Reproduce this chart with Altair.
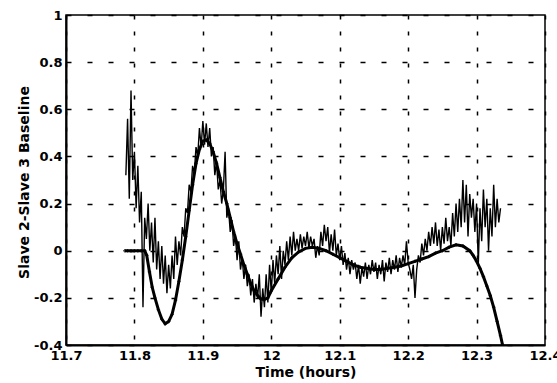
import altair as alt
import pandas as pd

# ---- model (smooth, marker) curve ----
model_t = [11.786, 11.790, 11.795, 11.800, 11.805, 11.810, 11.815, 11.818, 11.822, 11.826,
           11.830, 11.835, 11.840, 11.845, 11.850, 11.855, 11.860, 11.865, 11.870, 11.875,
           11.880, 11.885, 11.890, 11.895, 11.900, 11.905, 11.910, 11.915, 11.920, 11.925,
           11.930, 11.935, 11.940, 11.945, 11.950, 11.955, 11.960, 11.965, 11.970, 11.975,
           11.980, 11.985, 11.990, 11.995, 12.000, 12.010, 12.020, 12.030, 12.040, 12.050,
           12.060, 12.070, 12.080, 12.090, 12.100, 12.110, 12.120, 12.130, 12.140, 12.150,
           12.160, 12.170, 12.180, 12.190, 12.200, 12.210, 12.220, 12.230, 12.240, 12.250,
           12.260, 12.270, 12.280, 12.290, 12.295, 12.300, 12.305, 12.310, 12.315, 12.320,
           12.325, 12.330, 12.335, 12.338]
model_v = [0.0, 0.0, 0.0, 0.0, 0.0, 0.0, 0.0, -0.02, -0.09, -0.155,
           -0.20, -0.25, -0.29, -0.31, -0.30, -0.27, -0.21, -0.13, -0.04, 0.06,
           0.17, 0.28, 0.37, 0.43, 0.465, 0.47, 0.455, 0.42, 0.37, 0.31,
           0.25, 0.20, 0.14, 0.08, 0.03, -0.015, -0.06, -0.10, -0.14, -0.17,
           -0.19, -0.205, -0.207, -0.20, -0.17, -0.12, -0.07, -0.03, -0.005, 0.01,
           0.015, 0.01, 0.0, -0.015, -0.03, -0.045, -0.06, -0.07, -0.075, -0.08,
           -0.08, -0.075, -0.07, -0.065, -0.055, -0.045, -0.035, -0.025, -0.01, 0.0,
           0.015, 0.025, 0.02, 0.0, -0.02, -0.045, -0.075, -0.11, -0.15, -0.19,
           -0.24, -0.30, -0.36, -0.40]

# ---- measured (noisy) baseline ----
meas_t = [
    11.7875, 11.7900, 11.7925, 11.7950, 11.7975, 11.8000, 11.8025, 11.8050, 11.8075, 11.8100, 11.8125,
    11.8150, 11.8175, 11.8200, 11.8225, 11.8250, 11.8275, 11.8300, 11.8325, 11.8350, 11.8375,
    11.8400, 11.8425, 11.8450, 11.8475, 11.8500,
    11.8525, 11.8550, 11.8575, 11.8600, 11.8625, 11.8650, 11.8675, 11.8700, 11.8725, 11.8750,
    11.8775, 11.8800, 11.8825, 11.8850, 11.8875, 11.8900, 11.8925, 11.8950, 11.8975, 11.9000,
    11.9025, 11.9050, 11.9075, 11.9100, 11.9125, 11.9150, 11.9175, 11.9200, 11.9225, 11.9250,
    11.9275, 11.9300, 11.9325, 11.9350, 11.9375, 11.9400, 11.9425, 11.9450, 11.9475, 11.9500,
    11.9525, 11.9550, 11.9575, 11.9600, 11.9625, 11.9650, 11.9675, 11.9700, 11.9725, 11.9750,
    11.9775, 11.9800, 11.9825, 11.9850, 11.9875, 11.9900, 11.9925, 11.9950, 11.9975, 12.0000,
    12.0025, 12.0050, 12.0075, 12.0100, 12.0125, 12.0150, 12.0175, 12.0200, 12.0225, 12.0250,
    12.0275, 12.0300, 12.0325, 12.0350, 12.0375, 12.0400, 12.0425, 12.0450, 12.0475, 12.0500,
    12.0525, 12.0550, 12.0575, 12.0600, 12.0625, 12.0650, 12.0675, 12.0700, 12.0725, 12.0750,
    12.0775, 12.0800, 12.0825, 12.0850, 12.0875, 12.0900, 12.0925, 12.0950, 12.0975, 12.1000,
    12.1025, 12.1050, 12.1075, 12.1100, 12.1125, 12.1150, 12.1175, 12.1200, 12.1225, 12.1250,
    12.1275, 12.1300, 12.1325, 12.1350, 12.1375, 12.1400, 12.1425, 12.1450, 12.1475, 12.1500,
    12.1525, 12.1550, 12.1575, 12.1600, 12.1625, 12.1650, 12.1675, 12.1700, 12.1725, 12.1750,
    12.1775, 12.1800, 12.1825, 12.1850, 12.1875, 12.1900, 12.1925, 12.1950, 12.1975, 12.2000,
    12.2025, 12.2050, 12.2075, 12.2100, 12.2125, 12.2150, 12.2175, 12.2200, 12.2225, 12.2250,
    12.2275, 12.2300, 12.2325, 12.2350, 12.2375, 12.2400, 12.2425, 12.2450, 12.2475, 12.2500,
    12.2525, 12.2550, 12.2575, 12.2600, 12.2625, 12.2650, 12.2675, 12.2700, 12.2725, 12.2750,
    12.2775, 12.2800, 12.2825, 12.2850, 12.2875, 12.2900, 12.2925, 12.2950, 12.2975, 12.3000,
    12.3025, 12.3050, 12.3075, 12.3100, 12.3125, 12.3150, 12.3175, 12.3200, 12.3225, 12.3250,
    12.3275, 12.3300, 12.3325, 12.3350]
meas_v = [
    0.32, 0.56, 0.22, 0.68, 0.30, 0.42, 0.18, 0.36, 0.12, 0.25, -0.24,
    0.14, 0.05, 0.20, 0.00, 0.12, -0.05, 0.14, -0.08, 0.04, -0.12,
    0.02, -0.14, -0.02, -0.18, -0.06,
    -0.16, -0.02, -0.12, 0.06, -0.06, 0.04, -0.02, 0.10, 0.06, 0.18,
    0.16, 0.28, 0.25, 0.36, 0.33, 0.44, 0.40, 0.52, 0.44, 0.55,
    0.45, 0.54, 0.44, 0.52, 0.40, 0.44, 0.32, 0.38, 0.26, 0.30,
    0.20, 0.26, 0.42, 0.14, 0.18, 0.08, 0.13, 0.02, 0.07, -0.04,
    0.04, -0.08, -0.03, -0.12, -0.06, -0.15, -0.10, -0.19, -0.12, -0.22,
    -0.14, -0.20, -0.10, -0.28, -0.16, -0.24, -0.10, -0.22, -0.06, -0.18,
    -0.04, -0.14, -0.02, -0.10, 0.02, -0.12, 0.00, -0.06, 0.04, -0.04,
    0.06, -0.02, 0.08, 0.00, 0.05, 0.00, 0.07, 0.01, 0.06, 0.02,
    0.08, 0.01, 0.06, 0.02, 0.05, -0.03, 0.02, -0.02, 0.08, 0.02,
    0.11, 0.04, 0.10, -0.01, 0.07, 0.00, 0.09, -0.02, 0.03, -0.04,
    0.02, -0.06, -0.01, -0.08, -0.03, -0.10, -0.04, -0.08, -0.05, -0.12,
    -0.06, -0.14, -0.07, -0.11, -0.05, -0.12, -0.06, -0.10, -0.04, -0.09,
    -0.05, -0.12, -0.06, -0.10, -0.04, -0.13, -0.05, -0.09, -0.03, -0.10,
    -0.04, -0.08, -0.02, -0.09, -0.03, -0.07, -0.02, -0.06, 0.04, -0.05,
    -0.08, -0.12, -0.06, -0.20, -0.08, -0.02, -0.05, 0.03, -0.02, 0.05,
    0.00, 0.08, 0.02, 0.10, 0.03, 0.12, 0.02, 0.09, 0.00, 0.10,
    0.03, 0.14, 0.04, 0.10, 0.02, 0.16, 0.06, 0.20, 0.08, 0.22,
    0.10, 0.30, 0.12, 0.28, 0.06, 0.24, 0.14, 0.22, 0.08, 0.20,
    -0.06, 0.18, 0.04, 0.26, 0.10, 0.22, 0.00, 0.18, 0.06, 0.28,
    0.10, 0.22, 0.12, 0.18]

x_ticks = [11.7, 11.8, 11.9, 12.0, 12.1, 12.2, 12.3, 12.4]
y_ticks = [-0.4, -0.2, 0.0, 0.2, 0.4, 0.6, 0.8, 1.0]

model_df = pd.DataFrame({"t": model_t, "v": model_v})
meas_df = pd.DataFrame({"t": meas_t, "v": meas_v})

FONT = "DejaVu Sans"

x_enc = alt.X(
    "t:Q",
    scale=alt.Scale(domain=[11.7, 12.4], nice=False, zero=False),
    axis=alt.Axis(
        values=x_ticks,
        labelExpr="abs(datum.value - 12) < 1e-9 ? '12' : format(datum.value, '.1f')",
        title="Time (hours)",
        titleFont=FONT, titleFontSize=14, titleFontWeight="bold", titleColor="black",
        titleY=31, titleBaseline="alphabetic",
        labelFont=FONT, labelFontSize=13, labelFontWeight="bold", labelColor="black",
        labelPadding=4, labelFlush=False, labelOverlap=False,
        ticks=False, domainColor="black", domainWidth=2,
        grid=True, gridColor="black", gridDash=[4, 12], gridWidth=1.5, gridOpacity=1,
    ),
)
y_enc = alt.Y(
    "v:Q",
    scale=alt.Scale(domain=[-0.4, 1.0], nice=False, zero=False),
    axis=alt.Axis(
        values=y_ticks,
        labelExpr="abs(datum.value) < 1e-9 ? '0' : abs(datum.value - 1) < 1e-9 ? '1' : replace(format(datum.value, '.1f'), '\u2212', '-')",
        title="Slave 2-Slave 3 Baseline",
        titleFont=FONT, titleFontSize=14, titleFontWeight="bold", titleColor="black",
        titleX=-42, titleY=167, titleBaseline="middle", titleAlign="center", titleAngle=270,
        labelFont=FONT, labelFontSize=13, labelFontWeight="bold", labelColor="black",
        labelPadding=4, labelFlush=False, labelOverlap=False,
        ticks=False, domainColor="black", domainWidth=2,
        grid=True, gridColor="black", gridDash=[5, 16], gridWidth=1.5, gridOpacity=1,
    ),
)

meas = alt.Chart(meas_df).mark_line(color="black", strokeWidth=1.4, clip=True).encode(
    x=x_enc, y=y_enc, order="t:Q"
)
model = alt.Chart(model_df).mark_line(color="black", strokeWidth=3, clip=True).encode(
    x="t:Q", y="v:Q", order="t:Q"
)
model_pts = alt.Chart(model_df).mark_point(
    shape="cross", color="black", filled=True, size=12, clip=True
).encode(x="t:Q", y="v:Q")

chart = (
    alt.layer(meas, model, model_pts)
    .properties(
        width=479,
        height=330,
        autosize=alt.AutoSizeParams(type="none"),
        padding={"left": 66, "top": 15, "right": 12, "bottom": 38},
        background="white",
    )
    .configure_view(stroke="black", strokeWidth=1.5)
)

chart.save("out.html", embed_options={"renderer": "svg", "actions": False})
